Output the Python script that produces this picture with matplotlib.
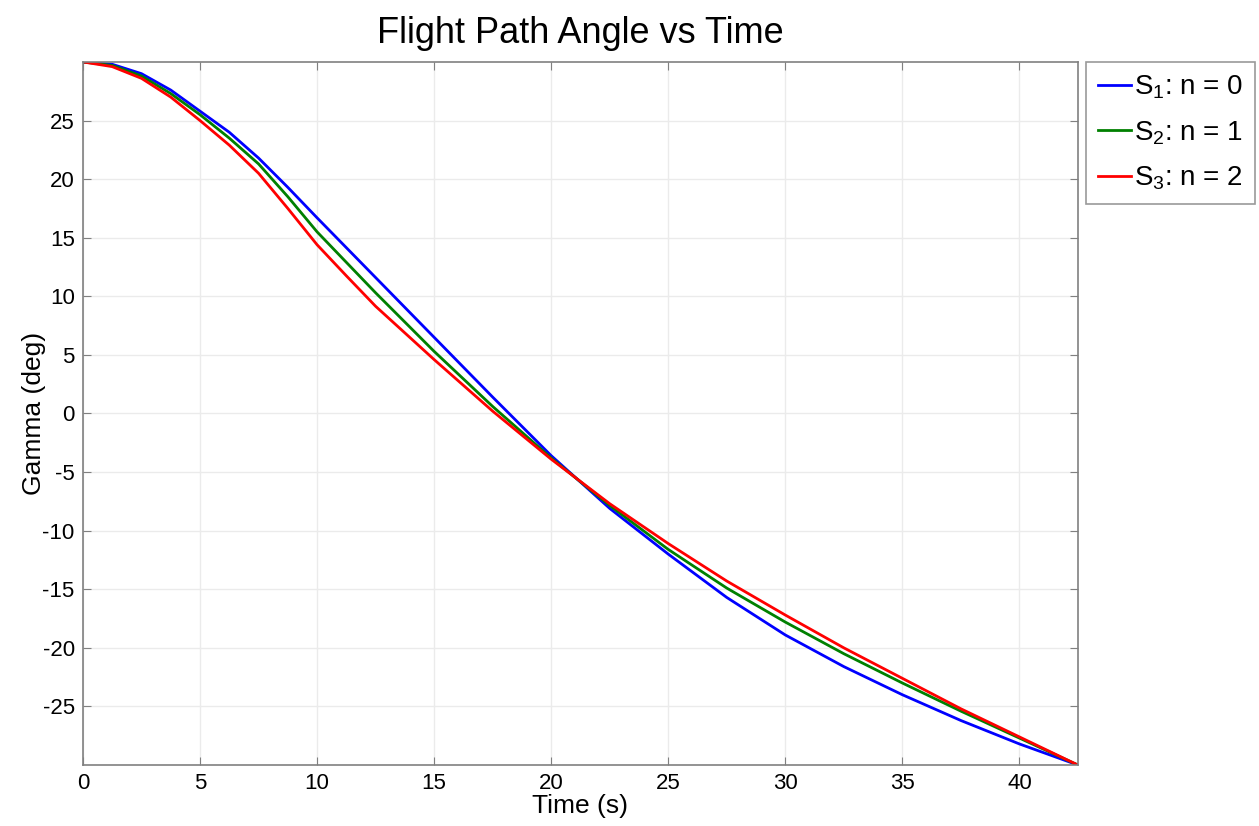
import matplotlib
matplotlib.use("Agg")
import matplotlib.pyplot as plt

plt.rcParams['font.family'] = ['Liberation Sans', 'DejaVu Sans']
plt.rcParams['mathtext.default'] = 'regular'
plt.rcParams['axes.unicode_minus'] = False

time_s = [0, 1.25, 2.5, 3.75, 5, 6.25, 7.5, 8.75, 10, 11.25, 12.5, 15, 17.5, 20, 22.5,
          25, 27.5, 30, 32.5, 35, 37.5, 40, 42.5]
gamma_n0 = [30, 29.8, 29.0, 27.6, 25.8, 24.0, 21.8, 19.3, 16.7, 14.15, 11.6, 6.5, 1.4, -3.6, -8.1,
            -12.0, -15.7, -18.9, -21.6, -24.0, -26.2, -28.2, -30]
gamma_n1 = [30, 29.7, 28.8, 27.3, 25.5, 23.5, 21.3, 18.5, 15.5, 12.9, 10.3, 5.3, 0.6, -3.8, -7.85,
            -11.6, -14.9, -17.8, -20.5, -23.0, -25.4, -27.7, -30]
gamma_n2 = [30, 29.6, 28.6, 27.0, 25.0, 22.9, 20.5, 17.5, 14.4, 11.75, 9.15, 4.6, 0.2, -3.9, -7.7,
            -11.1, -14.3, -17.2, -20.0, -22.6, -25.2, -27.6, -30]
labels = ['S$_1$: n = 0', 'S$_2$: n = 1', 'S$_3$: n = 2']
colors = ['#0000ff', '#008000', '#ff0000']

x_ticks = [0, 5, 10, 15, 20, 25, 30, 35, 40]
y_ticks = [-25, -20, -15, -10, -5, 0, 5, 10, 15, 20, 25]

fig = plt.figure(figsize=(12.59, 8.26), dpi=100)
ax = fig.add_axes([0.0659, 0.0738, 0.7903, 0.8512])

for y, lab, c in zip([gamma_n0, gamma_n1, gamma_n2], labels, colors):
    ax.plot(time_s, y, color=c, lw=2.0, label=lab, solid_joinstyle='round')

ax.set_xlim(0, 42.5)
ax.set_ylim(-30, 30)
ax.set_xticks(x_ticks)
ax.set_yticks(y_ticks)
ax.grid(True, color='#ebebeb', lw=1.0)
ax.set_axisbelow(True)
ax.tick_params(direction='in', top=True, right=True, labelsize=16, length=6,
               color='#808080', pad=6)
for s in ax.spines.values():
    s.set_color('#808080')
    s.set_linewidth(1.2)

ax.set_title('Flight Path Angle vs Time', fontsize=26, pad=14)
ax.set_xlabel('Time (s)', fontsize=19, labelpad=0)
ax.set_ylabel('Gamma (deg)', fontsize=19)
ax.yaxis.set_label_coords(-0.037, 0.5)

leg = ax.legend(loc='upper left', bbox_to_anchor=(1.008, 1.0), fontsize=20,
                frameon=True, fancybox=False, edgecolor='#808080',
                handlelength=1.2, handletextpad=0.1, borderaxespad=0,
                labelspacing=0.65, borderpad=0.42)
leg.get_frame().set_linewidth(1.2)

fig.savefig('out.png', dpi=100)
